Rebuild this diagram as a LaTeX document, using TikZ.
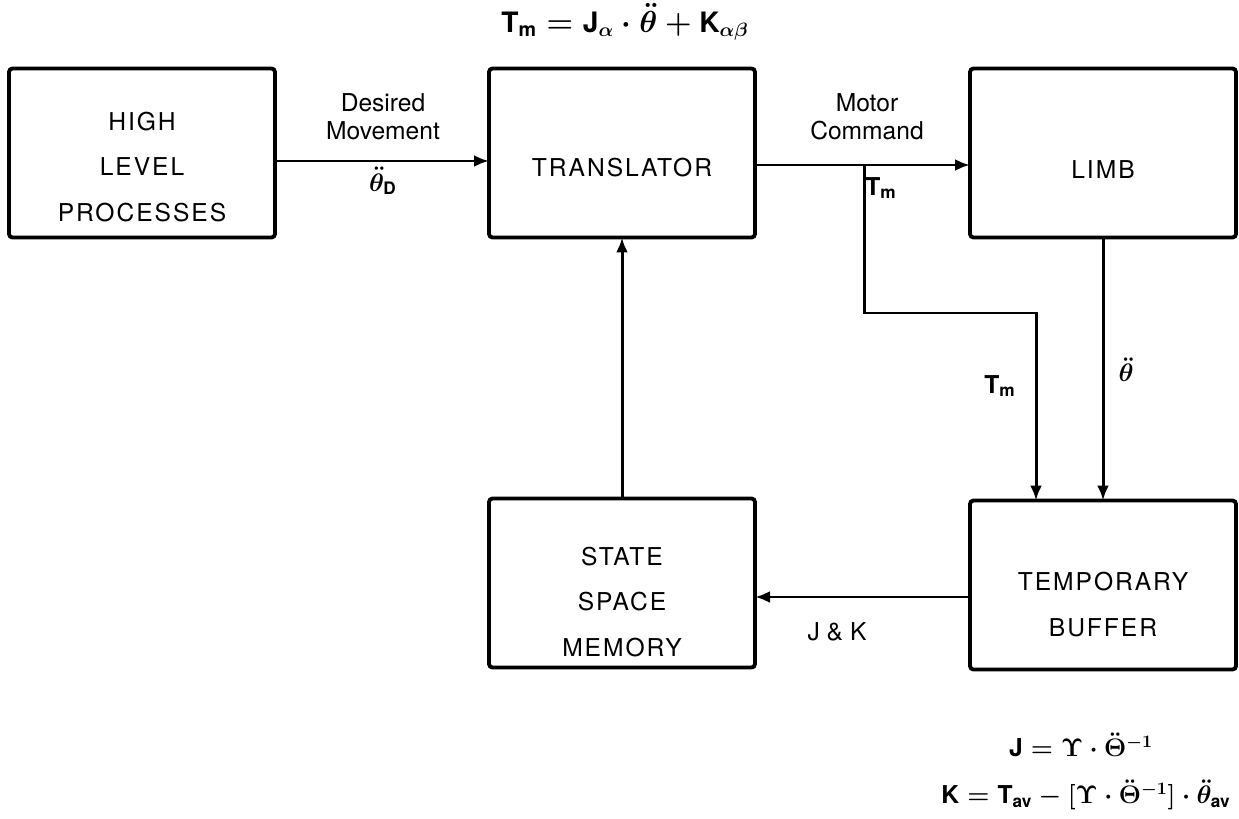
\documentclass[tikz,border=0pt]{standalone}
\usepackage{amsmath}
\usepackage{fontspec}
\setmainfont{TeX Gyre Heros}
\newfontfamily\boxfont[LetterSpace=8]{TeX Gyre Heros}
\usetikzlibrary{arrows.meta, positioning, calc}

\begin{document}
\begin{tikzpicture}[
        blk/.style={draw=black, line width=2.2pt, rounded corners=2pt,
            minimum width=5.32cm, minimum height=3.38cm, outer sep=0pt},
        boxtxt/.style={align=center, font=\boxfont\fontsize{14}{26}\selectfont},
        lbl/.style={align=center, font=\fontsize{14}{16}\selectfont},
        eqn/.style={font=\bfseries\boldmath\fontsize{14}{16}\selectfont},
        arr/.style={-{Latex[length=3mm, width=2.4mm]}, line width=1.7pt}
    ]
        \useasboundingbox (0,0) rectangle (24.78,-16.38);
        \node[blk] (hlp) at (2.84,-3.06) {};
        \node[blk, right=4.28cm of hlp] (trans) {};
        \node[blk, right=4.3cm of trans] (limb) {};
        \node[blk, below=5.22cm of trans] (mem) {};
        \node[blk, below=5.26cm of limb] (buf) {};
        \node[boxtxt] (hlptxt) at ([yshift=-0.28cm]hlp.center) {HIGH\\LEVEL\\PROCESSES};
        \node[boxtxt] (transtxt) at ([yshift=-0.3cm]trans.center) {TRANSLATOR};
        \node[boxtxt] (limbtxt) at ([yshift=-0.34cm]limb.center) {LIMB};
        \node[boxtxt] (memtxt) at ([yshift=-0.38cm]mem.center) {STATE\\SPACE\\MEMORY};
        \node[boxtxt] (buftxt) at ([yshift=-0.39cm]buf.center) {TEMPORARY\\BUFFER};
        \coordinate (tap) at ([xshift=2.18cm, yshift=-0.24cm]trans.east);
        \coordinate (bufin) at ([xshift=1.32cm]buf.north west);
        \coordinate (jkout) at ([yshift=-0.24cm]buf.west);
        \draw[arr] ([yshift=-0.16cm]hlp.east) -- ([yshift=-0.16cm]trans.west);
        \draw[arr] ([yshift=-0.24cm]trans.east) -- ([yshift=-0.24cm]limb.west);
        \draw[arr] (tap) -- ++(0,-2.96) -| (bufin);
        \draw[arr] (limb) -- (buf);
        \draw[arr] (mem) -- (trans);
        \draw[arr] (jkout) -- (jkout -| mem.east);
        % labels on the connectors
        \node[lbl] (desired) at (7.66,-2.34) {Desired\\Movement};
        \node[eqn] (thetad) at (7.66,-3.62) {$\ddot{\theta}_{\text{D}}$};
        \node[lbl] (motor) at (17.34,-2.34) {Motor\\Command};
        \node[eqn] (tmone) at (17.62,-3.76) {$\text{T}_{\text{m}}$};
        \node[eqn] (tmtwo) at (20.0,-7.72) {$\text{T}_{\text{m}}$};
        \node[eqn] (thetal) at (22.52,-7.4) {$\ddot{\theta}$};
        \node[lbl] (jk) at (16.74,-12.64) {J \& K};
        % equations
        \node[eqn, font=\bfseries\boldmath\fontsize{16}{18}\selectfont] (eqtop) at (12.5,-0.44)
            {$\text{T}_{\text{m}} = \text{J}_{\alpha}\cdot\ddot{\theta} + \text{K}_{\alpha\beta}$};
        \node[eqn] (eqj) at (21.62,-14.9) {$\text{J} = \Upsilon\cdot\ddot{\Theta}^{-1}$};
        \node[eqn] (eqk) at (21.72,-15.9) {$\text{K} = \text{T}_{\text{av}} - [\Upsilon\cdot\ddot{\Theta}^{-1}]\cdot\ddot{\theta}_{\text{av}}$};
    \end{tikzpicture}
\end{document}
